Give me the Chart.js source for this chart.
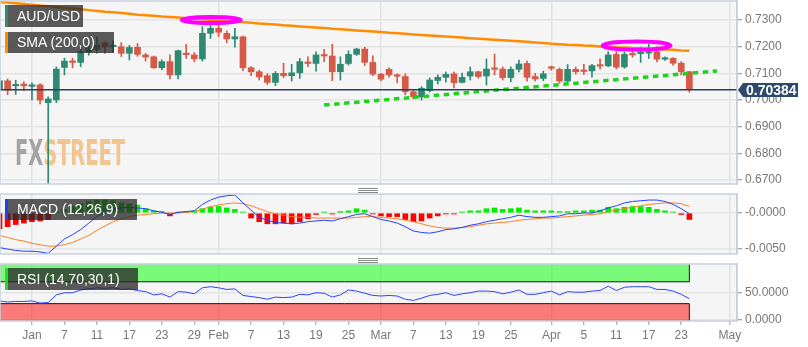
<!DOCTYPE html>
<html>
<head>
<meta charset="utf-8">
<title>AUD/USD daily</title>
<script src="https://cdn.jsdelivr.net/npm/chart.js@4.4.1/dist/chart.umd.min.js"></script>
<style>
  html, body { margin: 0; padding: 0; background: #fff; }
  #wrap { position: relative; width: 808px; height: 347px; overflow: hidden;
          font-family: Arial, "Liberation Sans", sans-serif; }
  #wrap canvas { position: absolute; left: 0; }
  .tag { position: absolute; left: 5px; height: 21px; line-height: 21px; padding: 0 0 0 9px;
         background: rgba(40, 40, 40, 0.76); color: #fff; font-size: 14px;
         border-left: 3px solid; box-sizing: border-box; white-space: nowrap; }
  .grip { position: absolute; left: 358px; width: 20px; height: 5px;
          background: repeating-linear-gradient(#8a8a8a 0 1px, transparent 1px 2px); }
</style>
</head>
<body>
<div id="wrap">
  <canvas id="price" width="808" height="185" style="top:0"></canvas>
  <canvas id="macd" width="808" height="71" style="top:185px"></canvas>
  <canvas id="rsi" width="808" height="91" style="top:256px"></canvas>
  <div class="tag" style="top:5px;width:78px;height:22px;line-height:22px;border-color:#2f8a72">AUD/USD</div>
  <div class="tag" style="top:32px;width:109px;border-color:#ff8c00">SMA (200,0)</div>
  <div class="tag" style="top:199px;width:132px;border-color:#1f3fff">MACD (12,26,9)</div>
  <div class="tag" style="top:268px;width:133px;height:22px;line-height:22px;border-color:#22dd22">RSI (14,70,30,1)</div>
  <div class="grip" style="top:188px"></div>
  <div class="grip" style="top:258px"></div>
</div>
<script>
// daily candles, Dec 26 2018 .. Apr 24 2019; index 0 = Jan 1 (trading days)
const FIRST = -4;

const open = [
  0.7042, 0.7072, 0.7053, 0.7060, 0.7051, 0.7057, 0.6990, 0.7000, 0.7122, 0.7146,
  0.7141, 0.7180, 0.7190, 0.7214, 0.7200, 0.7200, 0.7175, 0.7198, 0.7169, 0.7162,
  0.7121, 0.7144, 0.7094, 0.7173, 0.7169, 0.7154, 0.7250, 0.7269, 0.7250, 0.7229,
  0.7237, 0.7121, 0.7106, 0.7091, 0.7066, 0.7100, 0.7091, 0.7102, 0.7140, 0.7137,
  0.7169, 0.7165, 0.7106, 0.7137, 0.7171, 0.7191, 0.7141, 0.7097, 0.7115, 0.7092,
  0.7088, 0.7031, 0.7012, 0.7035, 0.7073, 0.7085, 0.7098, 0.7066, 0.7090, 0.7106,
  0.7090, 0.7118, 0.7116, 0.7084, 0.7115, 0.7137, 0.7088, 0.7081, 0.7122, 0.7115,
  0.7071, 0.7115, 0.7112, 0.7109, 0.7131, 0.7128, 0.7171, 0.7124, 0.7174, 0.7174,
  0.7176, 0.7181, 0.7153, 0.7156, 0.7138, 0.7106
];
const high = [
  0.7080, 0.7079, 0.7074, 0.7068, 0.7064, 0.7062, 0.7012, 0.7124, 0.7157, 0.7157,
  0.7194, 0.7205, 0.7237, 0.7218, 0.7222, 0.7215, 0.7205, 0.7212, 0.7175, 0.7165,
  0.7151, 0.7169, 0.7187, 0.7209, 0.7178, 0.7275, 0.7300, 0.7288, 0.7259, 0.7269,
  0.7240, 0.7125, 0.7112, 0.7099, 0.7107, 0.7138, 0.7134, 0.7156, 0.7162, 0.7181,
  0.7190, 0.7209, 0.7162, 0.7184, 0.7194, 0.7198, 0.7166, 0.7100, 0.7121, 0.7098,
  0.7098, 0.7040, 0.7050, 0.7083, 0.7094, 0.7105, 0.7105, 0.7101, 0.7124, 0.7108,
  0.7154, 0.7172, 0.7124, 0.7124, 0.7150, 0.7146, 0.7100, 0.7108, 0.7127, 0.7120,
  0.7133, 0.7124, 0.7134, 0.7134, 0.7154, 0.7181, 0.7181, 0.7179, 0.7186, 0.7199,
  0.7209, 0.7199, 0.7162, 0.7159, 0.7144, 0.7107
];
const low = [
  0.7036, 0.7020, 0.7021, 0.7035, 0.7000, 0.6985, 0.6686, 0.6990, 0.7094, 0.7121,
  0.7125, 0.7168, 0.7176, 0.7175, 0.7178, 0.7163, 0.7150, 0.7164, 0.7146, 0.7118,
  0.7113, 0.7079, 0.7079, 0.7156, 0.7143, 0.7146, 0.7231, 0.7238, 0.7215, 0.7198,
  0.7110, 0.7091, 0.7075, 0.7058, 0.7054, 0.7084, 0.7071, 0.7081, 0.7125, 0.7108,
  0.7144, 0.7072, 0.7075, 0.7131, 0.7167, 0.7129, 0.7091, 0.7072, 0.7086, 0.7064,
  0.7019, 0.7004, 0.7000, 0.7030, 0.7060, 0.7068, 0.7045, 0.7064, 0.7075, 0.7082,
  0.7056, 0.7094, 0.7075, 0.7068, 0.7105, 0.7071, 0.7072, 0.7072, 0.7112, 0.7063,
  0.7066, 0.7097, 0.7096, 0.7086, 0.7116, 0.7125, 0.7116, 0.7119, 0.7160, 0.7141,
  0.7156, 0.7143, 0.7148, 0.7130, 0.7094, 0.7029
];
const close = [
  0.7072, 0.7037, 0.7057, 0.7053, 0.7057, 0.7000, 0.7004, 0.7116, 0.7146, 0.7141,
  0.7181, 0.7192, 0.7206, 0.7199, 0.7203, 0.7175, 0.7197, 0.7171, 0.7161, 0.7121,
  0.7144, 0.7094, 0.7185, 0.7170, 0.7154, 0.7250, 0.7269, 0.7254, 0.7229, 0.7237,
  0.7121, 0.7106, 0.7087, 0.7066, 0.7100, 0.7091, 0.7102, 0.7144, 0.7137, 0.7169,
  0.7165, 0.7106, 0.7134, 0.7171, 0.7191, 0.7141, 0.7097, 0.7078, 0.7094, 0.7089,
  0.7031, 0.7012, 0.7044, 0.7075, 0.7085, 0.7096, 0.7065, 0.7085, 0.7106, 0.7088,
  0.7116, 0.7115, 0.7084, 0.7115, 0.7135, 0.7085, 0.7079, 0.7098, 0.7119, 0.7071,
  0.7115, 0.7106, 0.7107, 0.7129, 0.7127, 0.7169, 0.7123, 0.7171, 0.7169, 0.7176,
  0.7179, 0.7153, 0.7155, 0.7138, 0.7106, 0.70384
];
const sma200 = [
  0.7369, 0.7366, 0.7363, 0.7360, 0.7357, 0.7354, 0.7352, 0.7349, 0.7346, 0.7343,
  0.7340, 0.7337, 0.7334, 0.7331, 0.7329, 0.7326, 0.7323, 0.7320, 0.7318, 0.7316,
  0.7313, 0.7311, 0.7309, 0.7307, 0.7305, 0.7303, 0.7300, 0.7298, 0.7296, 0.7294,
  0.7292, 0.7290, 0.7287, 0.7285, 0.7283, 0.7280, 0.7278, 0.7276, 0.7274, 0.7272,
  0.7270, 0.7267, 0.7265, 0.7263, 0.7261, 0.7259, 0.7257, 0.7255, 0.7252, 0.7250,
  0.7248, 0.7246, 0.7244, 0.7242, 0.7240, 0.7238, 0.7236, 0.7234, 0.7232, 0.7230,
  0.7228, 0.7226, 0.7224, 0.7222, 0.7220, 0.7218, 0.7216, 0.7214, 0.7211, 0.7209,
  0.7207, 0.7206, 0.7204, 0.7203, 0.7201, 0.7200, 0.7198, 0.7197, 0.7195, 0.7194,
  0.7192, 0.7191, 0.7189, 0.7188, 0.7186, 0.7185
];
const macd = [
  -0.0048, -0.0050, -0.0052, -0.0053, -0.0053, -0.0054, -0.0056, -0.0046, -0.0036, -0.0030,
  -0.0023, -0.0014, -0.0005, 0.0001, 0.0006, 0.0007, 0.0008, 0.0007, 0.0006, 0.0003,
  0.0001, -0.0002, 0.0001, 0.0002, 0.0003, 0.0012, 0.0018, 0.0022, 0.0024, 0.0025,
  0.0014, 0.0004, -0.0006, -0.0010, -0.0013, -0.0014, -0.0015, -0.0014, -0.0012, -0.0011,
  -0.0010, -0.0011, -0.0008, -0.0005, -0.0002, -0.0001, -0.0005, -0.0009, -0.0011, -0.0014,
  -0.0019, -0.0025, -0.0027, -0.0028, -0.0026, -0.0023, -0.0022, -0.0020, -0.0017, -0.0015,
  -0.0012, -0.0010, -0.0008, -0.0006, -0.0003, -0.0005, -0.0006, -0.0006, -0.0005, -0.0004,
  -0.0001, -0.0001, 0.0000, 0.0000, 0.0003, 0.0007, 0.0010, 0.0014, 0.0016, 0.0017,
  0.0018, 0.0018, 0.0016, 0.0012, 0.0006, -0.0001
];
const signal = [
  -0.0031, -0.0034, -0.0037, -0.0039, -0.0042, -0.0044, -0.0046, -0.0046, -0.0044, -0.0041,
  -0.0036, -0.0031, -0.0024, -0.0018, -0.0012, -0.0008, -0.0005, -0.0003, -0.0002, -0.0001,
  0.0000, 0.0000, 0.0000, 0.0001, 0.0002, 0.0005, 0.0009, 0.0011, 0.0013, 0.0014,
  0.0013, 0.0010, 0.0006, 0.0002, -0.0001, -0.0003, -0.0005, -0.0006, -0.0006, -0.0007,
  -0.0007, -0.0007, -0.0007, -0.0007, -0.0006, -0.0005, -0.0005, -0.0006, -0.0007, -0.0008,
  -0.0010, -0.0012, -0.0015, -0.0018, -0.0020, -0.0021, -0.0021, -0.0020, -0.0019, -0.0017,
  -0.0015, -0.0014, -0.0013, -0.0012, -0.0010, -0.0009, -0.0008, -0.0007, -0.0007, -0.0006,
  -0.0005, -0.0004, -0.0003, -0.0002, -0.0001, 0.0002, 0.0004, 0.0006, 0.0008, 0.0010,
  0.0012, 0.0013, 0.0014, 0.0014, 0.0013, 0.0009
];
const histogram = [
  -0.0022, -0.0019, -0.0016, -0.0014, -0.0012, -0.0011, -0.0009, 0.0001, 0.0005, 0.0010,
  0.0013, 0.0016, 0.0018, 0.0018, 0.0017, 0.0014, 0.0013, 0.0011, 0.0006, 0.0003,
  0.0002, -0.0004, 0.0001, 0.0001, 0.0003, 0.0006, 0.0008, 0.0009, 0.0007, 0.0005,
  0.0001, -0.0007, -0.0012, -0.0015, -0.0015, -0.0014, -0.0015, -0.0012, -0.0008, -0.0002,
  0.0001, -0.0001, 0.0002, 0.0003, 0.0006, 0.0004, -0.0001, -0.0004, -0.0005, -0.0005,
  -0.0009, -0.0012, -0.0011, -0.0007, -0.0004, -0.0001, -0.0001, 0.0001, 0.0003, 0.0003,
  0.0006, 0.0007, 0.0005, 0.0006, 0.0007, 0.0004, 0.0003, 0.0003, 0.0003, 0.0002,
  0.0002, 0.0003, 0.0003, 0.0004, 0.0004, 0.0008, 0.0006, 0.0008, 0.0009, 0.0009,
  0.0008, 0.0005, 0.0003, 0.0001, -0.0002, -0.0009
];
const rsi = [
  35, 33, 34, 34, 35, 31, 32, 46, 50, 50,
  55, 57, 59, 58, 59, 56, 57, 54, 52, 46,
  48, 42, 52, 51, 48, 59, 61, 59, 56, 57,
  45, 43, 41, 38, 42, 41, 42, 47, 46, 50,
  49, 42, 46, 55, 53, 49, 45, 44, 45, 44,
  38, 36, 40, 45, 47, 50, 45, 48, 50, 53,
  53, 52, 48, 51, 55, 47, 47, 50, 53, 46,
  52, 51, 51, 53, 54, 62, 54, 60, 61, 61,
  61, 56, 56, 53, 47, 39
];

// axis ticks
const tickPos  = [0, 4, 8, 12, 16, 20, 23, 27, 31, 35, 39, 43, 47, 51, 55, 59, 64, 68, 72, 76, 80, 86];
const tickText = ['Jan', '7', '11', '17', '23', '29', 'Feb', '7', '13', '19', '25',
                  'Mar', '7', '13', '19', '25', 'Apr', '5', '11', '17', '23', 'May'];
const monthPos = [0, 23, 43, 64, 86];
const priceTicks = [0.67, 0.68, 0.69, 0.70, 0.71, 0.72, 0.73];
const macdTicks = [0, -0.005];
const macdTickText = ['-0.0000', '-0.0050'];
const rsiTicks = [0, 50];
const rsiTickText = ['0.0000', '50.0000'];
const rsiLevels = [30, 70];

// drawn annotations: support line and the two tops
const trend = [[36, 0.6981], [84.4, 0.7109]];
const rings = [[22.1, 0.7300], [74.5, 0.7204]];

const idx = close.map((_, k) => k + FIRST);
const LAST = idx[idx.length - 1];
const lastPrice = close[close.length - 1];

const X_MIN = -3.94, X_MAX = 86.87;
const AXIS_W = 71;
const UP = '#2f8a72', DOWN = '#d65a47';

Chart.defaults.font.family = 'Arial, "Liberation Sans", sans-serif';
Chart.defaults.font.size = 12;
Chart.defaults.color = '#777';
Chart.defaults.animation = false;
Chart.defaults.plugins.legend.display = false;
Chart.defaults.plugins.tooltip.enabled = false;

function xAxis(labels) {
  return {
    type: 'linear', min: X_MIN, max: X_MAX, offset: false,
    afterBuildTicks: s => { s.ticks = tickPos.map(v => ({ value: v })); },
    afterFit: s => { s.height = labels ? 26 : 0; s.paddingLeft = 0; s.paddingRight = 0; },
    grid: {
      offset: false, lineWidth: 1.5,
      color: c => (c.tick && monthPos.includes(c.tick.value)) ? '#e1e1e1' : 'rgba(0,0,0,0)',
      drawTicks: labels, tickLength: 4, tickColor: '#999', tickWidth: 1
    },
    border: { display: false },
    ticks: { display: labels, autoSkip: false, maxRotation: 0, padding: 3,
             callback: (v, k) => tickText[k] }
  };
}

function yAxis(min, max, values, fmt) {
  return {
    type: 'linear', position: 'right', min, max,
    afterBuildTicks: s => { s.ticks = values.map(v => ({ value: v })); },
    afterFit: s => { s.width = AXIS_W; s.paddingTop = 0; s.paddingBottom = 0; },
    grid: { color: '#e4e4e4', lineWidth: 1.5, tickLength: 5, tickColor: '#8a8a8a', tickWidth: 1 },
    border: { color: '#c4cbdb', width: 1.5 },
    ticks: { padding: 3, callback: fmt }
  };
}

// plot background + frame
const panel = {
  id: 'panel',
  beforeDraw(chart) {
    const { ctx, chartArea: a } = chart;
    ctx.save();
    ctx.fillStyle = '#f5f5f5';
    ctx.fillRect(a.left, a.top, a.right - a.left, a.bottom - a.top);
    ctx.restore();
  },
  afterDraw(chart) {
    const { ctx, chartArea: a } = chart;
    ctx.save();
    ctx.strokeStyle = '#c8cfdf';
    ctx.lineWidth = 1.5;
    ctx.strokeRect(a.left, a.top, a.right - a.left, a.bottom - a.top);
    ctx.restore();
  }
};

// FXSTREET watermark under the candles
const watermark = {
  id: 'watermark',
  beforeDatasetsDraw(chart) {
    const { ctx, chartArea: a } = chart;
    ctx.save();
    ctx.font = 'bold 36px "DejaVu Sans Condensed", "Liberation Sans Narrow", sans-serif';
    const w1 = ctx.measureText('FX').width;
    const w2 = ctx.measureText('STREET').width;
    ctx.translate(a.left + 15, a.top + 164);
    ctx.scale(110 / (w1 + w2), 1);
    ctx.fillStyle = '#a3a3a3';
    ctx.fillText('FX', 0, 0);
    ctx.fillStyle = '#f2c48e';
    ctx.fillText('STREET', w1, 0);
    ctx.restore();
  }
};

// magenta circles around the two tops
const ringMarks = {
  id: 'ringMarks',
  afterDatasetsDraw(chart) {
    const { ctx, scales: { x, y } } = chart;
    ctx.save();
    ctx.strokeStyle = '#ff00ff';
    ctx.lineWidth = 4;
    rings.forEach(([i, p], n) => {
      ctx.beginPath();
      ctx.ellipse(x.getPixelForValue(i), y.getPixelForValue(p), n ? 34 : 29.5, n ? 4.2 : 3, 0, 0, Math.PI * 2);
      ctx.stroke();
    });
    ctx.restore();
  }
};

// last price flag on the price axis
const priceFlag = {
  id: 'priceFlag',
  afterDraw(chart) {
    const { ctx, chartArea: a, scales: { y } } = chart;
    const py = Math.round(y.getPixelForValue(lastPrice));
    ctx.save();
    ctx.fillStyle = '#2c4a6b';
    ctx.beginPath();
    ctx.moveTo(a.right + 1, py);
    ctx.lineTo(a.right + 6, py - 7);
    ctx.lineTo(a.right + 61, py - 7);
    ctx.lineTo(a.right + 61, py + 7);
    ctx.lineTo(a.right + 6, py + 7);
    ctx.closePath();
    ctx.fill();
    ctx.fillStyle = '#fff';
    ctx.font = 'bold 14px Arial, "Liberation Sans", sans-serif';
    ctx.textBaseline = 'middle';
    ctx.fillText(lastPrice.toFixed(5), a.right + 9, py + 1);
    ctx.restore();
  }
};

const candleColors = close.map((c, k) => c >= open[k] ? UP : DOWN);

new Chart(document.getElementById('price'), {
  type: 'line',
  data: {
    datasets: [
      { type: 'bar', order: 6, grouped: false, barThickness: 1,
        data: idx.map((i, k) => ({ x: i, y: [low[k], high[k]] })),
        backgroundColor: candleColors },
      { type: 'bar', order: 5, grouped: false, barThickness: 6, minBarLength: 1.5,
        data: idx.map((i, k) => ({ x: i, y: [open[k], close[k]] })),
        backgroundColor: candleColors },
      { order: 3, data: idx.map((i, k) => ({ x: i, y: sma200[k] })),
        borderColor: '#ff8c00', borderWidth: 2.5, pointRadius: 0, tension: 0 },
      { order: 2, data: trend.map(([i, p]) => ({ x: i, y: p })),
        borderColor: '#1fd21f', borderWidth: 3.5, borderDash: [5.5, 4.5], pointRadius: 0 },
      { order: 1, data: [{ x: X_MIN, y: lastPrice }, { x: X_MAX, y: lastPrice }],
        borderColor: '#2b3e5e', borderWidth: 1.5, pointRadius: 0 }
    ]
  },
  options: {
    responsive: false,
    layout: { padding: { top: 1, bottom: 1, left: 0, right: 0 } },
    scales: {
      x: xAxis(false),
      y: yAxis(0.66851, 0.73712, priceTicks, v => v.toFixed(4))
    }
  },
  plugins: [panel, watermark, ringMarks, priceFlag]
});

new Chart(document.getElementById('macd'), {
  type: 'line',
  data: {
    datasets: [
      { type: 'bar', order: 3, grouped: false, barThickness: 5, minBarLength: 1,
        data: idx.map((i, k) => ({ x: i, y: histogram[k] })),
        backgroundColor: histogram.map(v => v >= 0 ? '#00ee00' : '#ff0000') },
      { order: 2, data: idx.map((i, k) => ({ x: i, y: signal[k] })),
        borderColor: '#ff7f27', borderWidth: 1, pointRadius: 0 },
      { order: 1, data: idx.map((i, k) => ({ x: i, y: macd[k] })),
        borderColor: '#2244ff', borderWidth: 1, pointRadius: 0 }
    ]
  },
  options: {
    responsive: false,
    layout: { padding: { top: 9, bottom: 2, left: 0, right: 0 } },
    scales: {
      x: xAxis(false),
      y: yAxis(-0.00569, 0.00264, macdTicks, (v, k) => macdTickText[k])
    }
  },
  plugins: [panel]
});

const RSI_MIN = -1.8, RSI_MAX = 102.6;

new Chart(document.getElementById('rsi'), {
  type: 'line',
  data: {
    datasets: [
      { order: 4, data: [{ x: FIRST, y: rsiLevels[1] }, { x: LAST, y: rsiLevels[1] }],
        fill: 'end', backgroundColor: 'rgba(0,255,0,0.5)',
        borderColor: '#1a1a1a', borderWidth: 1, pointRadius: 0 },
      { order: 3, data: [{ x: FIRST, y: rsiLevels[0] }, { x: LAST, y: rsiLevels[0] }],
        fill: 'start', backgroundColor: 'rgba(255,0,0,0.5)',
        borderColor: '#1a1a1a', borderWidth: 1, pointRadius: 0 },
      { order: 2, spanGaps: false,
        data: [{ x: LAST, y: RSI_MIN }, { x: LAST, y: rsiLevels[0] }, { x: LAST, y: null },
               { x: LAST, y: rsiLevels[1] }, { x: LAST, y: RSI_MAX }],
        borderColor: '#1a1a1a', borderWidth: 1, pointRadius: 0 },
      { order: 1, data: idx.map((i, k) => ({ x: i, y: rsi[k] })),
        borderColor: '#2b45ff', borderWidth: 1, pointRadius: 0 }
    ]
  },
  options: {
    responsive: false,
    layout: { padding: { top: 8, bottom: 0, left: 0, right: 0 } },
    scales: {
      x: xAxis(true),
      y: yAxis(RSI_MIN, RSI_MAX, rsiTicks, (v, k) => rsiTickText[k])
    }
  },
  plugins: [panel]
});
</script>
</body>
</html>
